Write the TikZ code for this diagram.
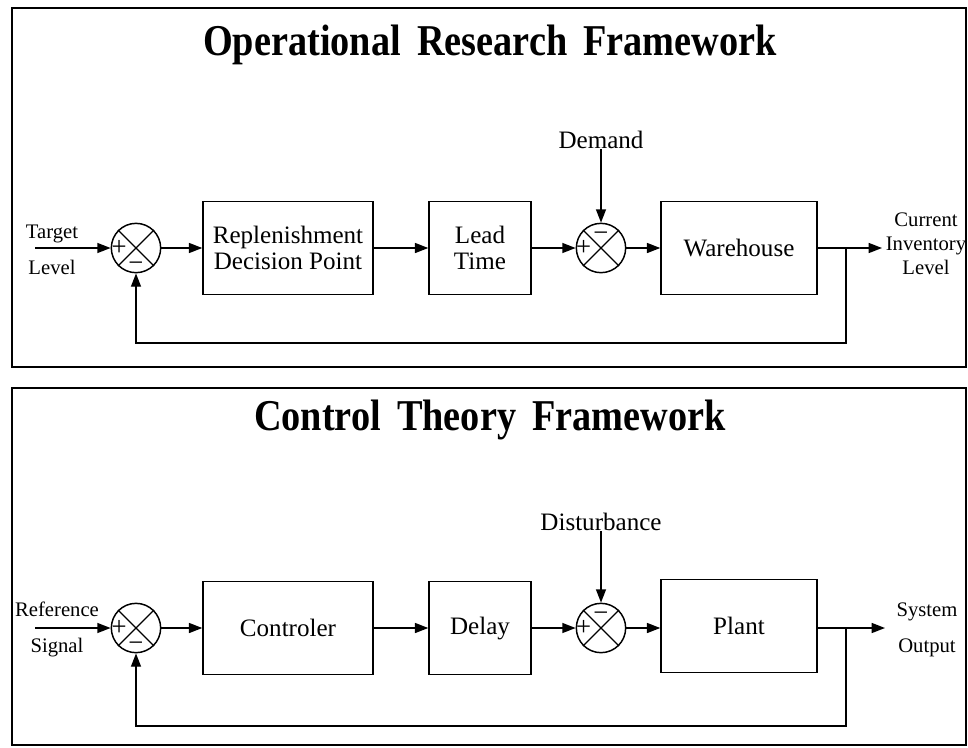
\documentclass[tikz,border=0pt]{standalone}
\usepackage{fontspec}
\setmainfont{Liberation Serif}
\newfontfamily\titlefont[FakeStretch=0.87]{Liberation Serif}
\usetikzlibrary{arrows.meta}
\tikzset{
    txtnode/.style = {align=center, inner sep=0pt, text centered},
    block_node/.style = {txtnode, rectangle, draw=black, minimum width=127.5pt, minimum height=70pt, line width=1.1pt, font=\fontsize{18.8}{19.5}\selectfont},
    sum_node/.style = {circle, draw=black, minimum size=37pt, inner sep=0pt, line width=1.1pt},
    sign_node/.style = {txtnode, font=\fontsize{20}{20}\selectfont},
    lbl_node/.style = {txtnode, font=\fontsize{15.5}{18}\selectfont},
    wide_lbl/.style = {txtnode, font=\fontsize{15.5}{27}\selectfont},
    title_node/.style = {txtnode, font=\titlefont\bfseries\fontsize{33}{36}\selectfont},
    panel/.style = {draw=black, line width=1.3pt},
    wire/.style = {line width=1.1pt},
    flow/.style = {wire, -{Triangle[length=10pt,width=7.5pt]}}
}

\begin{document}
\begin{tikzpicture}[x=0.75pt, y=-0.75pt]
    \useasboundingbox (0,0) rectangle (968,747);

    % frames
    \draw[panel] (12,8) rectangle (966,367);
    \draw[panel] (12,388) rectangle (966,745);

    % operational research
    \node[title_node] (or_title) at (490,45) {Operational\hspace{0.15em} Research\hspace{0.15em} Framework};
    \node[wide_lbl] (or_in) at (52,250) {Target\\Level};
    \coordinate (or_src) at (35,248);
    \node[sum_node] (or_s1) at (136,248) {};
    \node[block_node] (or_b1) at (288,248) {Replenishment\\Decision Point};
    \node[block_node, minimum width=76.5pt] (or_b2) at (480,248) {Lead\\Time};
    \node[sum_node] (or_s2) at (601,248) {};
    \node[block_node, minimum width=117pt] (or_b3) at (739,248) {Warehouse};
    \node[lbl_node, font=\fontsize{18.8}{19.5}\selectfont] (or_dist) at (601,140) {Demand};
    \node[lbl_node] (or_out) at (926,244) {Current\\Inventory\\Level};
    \coordinate (or_tap) at (846,248);
    \coordinate (or_end) at (882,248);

    \draw[wire, line width=0.9pt] (or_s1.north west) -- (or_s1.south east) (or_s1.north east) -- (or_s1.south west);
    \draw[wire, line width=0.9pt] (or_s2.north west) -- (or_s2.south east) (or_s2.north east) -- (or_s2.south west);
    \node[sign_node] (or_p1) at ([xshift=6.5pt]or_s1.west) {+};
    \node[sign_node] (or_m1) at ([yshift=5pt]or_s1.south) {−};
    \node[sign_node] (or_p2) at ([xshift=6pt]or_s2.west) {+};
    \node[sign_node] (or_m2) at ([yshift=-10.5pt]or_s2.north) {−};

    \draw[flow] (or_src) -- (or_s1);
    \draw[flow] (or_s1) -- (or_b1);
    \draw[flow] (or_b1) -- (or_b2);
    \draw[flow] (or_b2) -- (or_s2);
    \draw[flow] (or_s2) -- (or_b3);
    \draw[flow] (or_dist) -- (or_s2);
    \draw[flow] (or_b3) -- (or_end);
    \draw[flow] (or_tap) -- ++(0,95) -| (or_s1.south);

    % control theory
    \node[title_node] (ct_title) at (490,420) {Control\hspace{0.15em} Theory\hspace{0.15em} Framework};
    \node[wide_lbl] (ct_in) at (57,629) {Reference\\Signal};
    \coordinate (ct_src) at (35,628);
    \node[sum_node] (ct_s1) at (136,628) {};
    \node[block_node] (ct_b1) at (288,628) {Controler};
    \node[block_node, minimum width=76.5pt] (ct_b2) at (480,628) {Delay};
    \node[sum_node] (ct_s2) at (601,628) {};
    \node[block_node, minimum width=117pt] (ct_b3) at (739,626) {Plant};
    \node[lbl_node, font=\fontsize{18.8}{19.5}\selectfont] (ct_dist) at (601,522) {Disturbance};
    \node[wide_lbl] (ct_out) at (927,630) {System\\Output};
    \coordinate (ct_tap) at (846,628);
    \coordinate (ct_end) at (885,628);

    \draw[wire, line width=0.9pt] (ct_s1.north west) -- (ct_s1.south east) (ct_s1.north east) -- (ct_s1.south west);
    \draw[wire, line width=0.9pt] (ct_s2.north west) -- (ct_s2.south east) (ct_s2.north east) -- (ct_s2.south west);
    \node[sign_node] (ct_p1) at ([xshift=6.5pt]ct_s1.west) {+};
    \node[sign_node] (ct_m1) at ([yshift=5pt]ct_s1.south) {−};
    \node[sign_node] (ct_p2) at ([xshift=6pt]ct_s2.west) {+};
    \node[sign_node] (ct_m2) at ([yshift=-10.5pt]ct_s2.north) {−};

    \draw[flow] (ct_src) -- (ct_s1);
    \draw[flow] (ct_s1) -- (ct_b1);
    \draw[flow] (ct_b1) -- (ct_b2);
    \draw[flow] (ct_b2) -- (ct_s2);
    \draw[flow] (ct_s2) -- (ct_b3.west |- ct_s2);
    \draw[flow] (ct_dist) -- (ct_s2);
    \draw[flow] (ct_b3.east |- ct_tap) -- (ct_end);
    \draw[flow] (ct_tap) -- ++(0,98) -| (ct_s1.south);
\end{tikzpicture}
\end{document}
